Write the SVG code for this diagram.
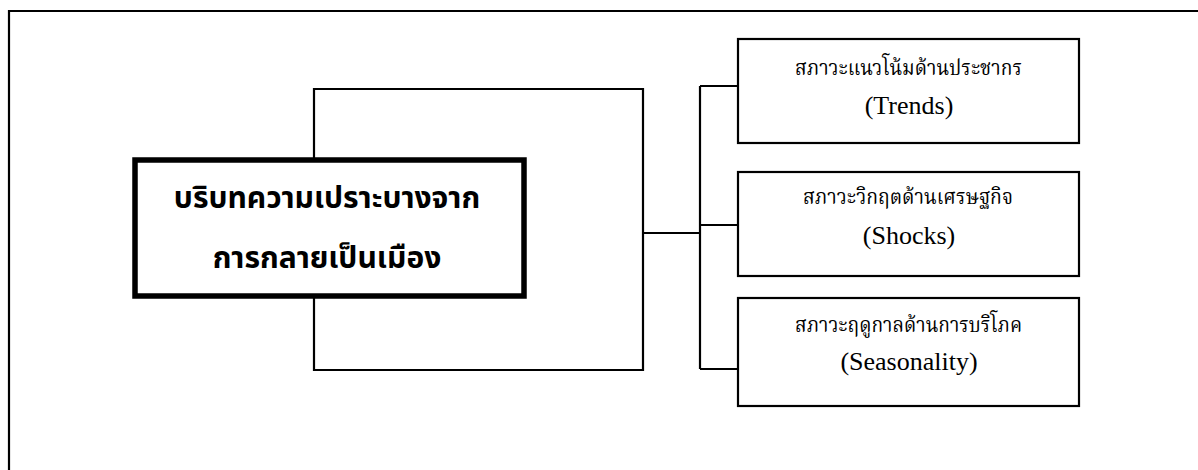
<svg xmlns="http://www.w3.org/2000/svg" width="1198" height="470" viewBox="0 0 1198 470">
<style>
.ln{fill:none;stroke:#000;stroke-width:2.2}
.box{fill:#fff;stroke:#000;stroke-width:2.2}
.main{fill:#fff;stroke:#000;stroke-width:5.5}
.mt{font-family:"Noto Sans Thai","Noto Sans","DejaVu Sans",sans-serif;font-weight:bold;font-size:30px;text-anchor:middle;fill:#000}
.st{font-family:"Liberation Serif","Noto Serif Thai","Noto Sans Thai",serif;font-size:21px;text-anchor:middle;fill:#000}
.et{font-family:"Liberation Serif",serif;font-size:26px;text-anchor:middle;fill:#000}
</style>
<rect width="1198" height="470" fill="#fff"/>
<g id="frame"><path class="ln" d="M9,472 V11 H1200"/></g>
<g id="connectors">
<path class="ln" d="M314,160 V89 H643 V370 H314 V296"/>
<path class="ln" d="M643,233 H700"/>
<path class="ln" d="M700,86 V369"/>
<path class="ln" d="M700,86 H738 M700,225 H738 M700,369 H738"/>
</g>
<g id="main">
<rect class="main" x="135" y="160" width="389" height="136"/>
<text class="mt" x="327" y="208">บริบทความเปราะบางจาก</text>
<text class="mt" x="327" y="268">การกลายเป็นเมือง</text>
</g>
<g id="trends">
<rect class="box" x="738" y="39" width="341" height="104"/>
<text class="st" x="908.5" y="75" textLength="227" lengthAdjust="spacingAndGlyphs">สภาวะแนวโน้มด้านประชากร</text>
<text class="et" x="909" y="114">(Trends)</text>
</g>
<g id="shocks">
<rect class="box" x="738" y="172" width="341" height="104"/>
<text class="st" x="908" y="204" textLength="210" lengthAdjust="spacingAndGlyphs">สภาวะวิกฤตด้านเศรษฐกิจ</text>
<text class="et" x="909" y="244">(Shocks)</text>
</g>
<g id="seasonality">
<rect class="box" x="738" y="298" width="341" height="108"/>
<text class="st" x="908.5" y="332" textLength="227" lengthAdjust="spacingAndGlyphs">สภาวะฤดูกาลด้านการบริโภค</text>
<text class="et" x="909" y="370">(Seasonality)</text>
</g>
</svg>
